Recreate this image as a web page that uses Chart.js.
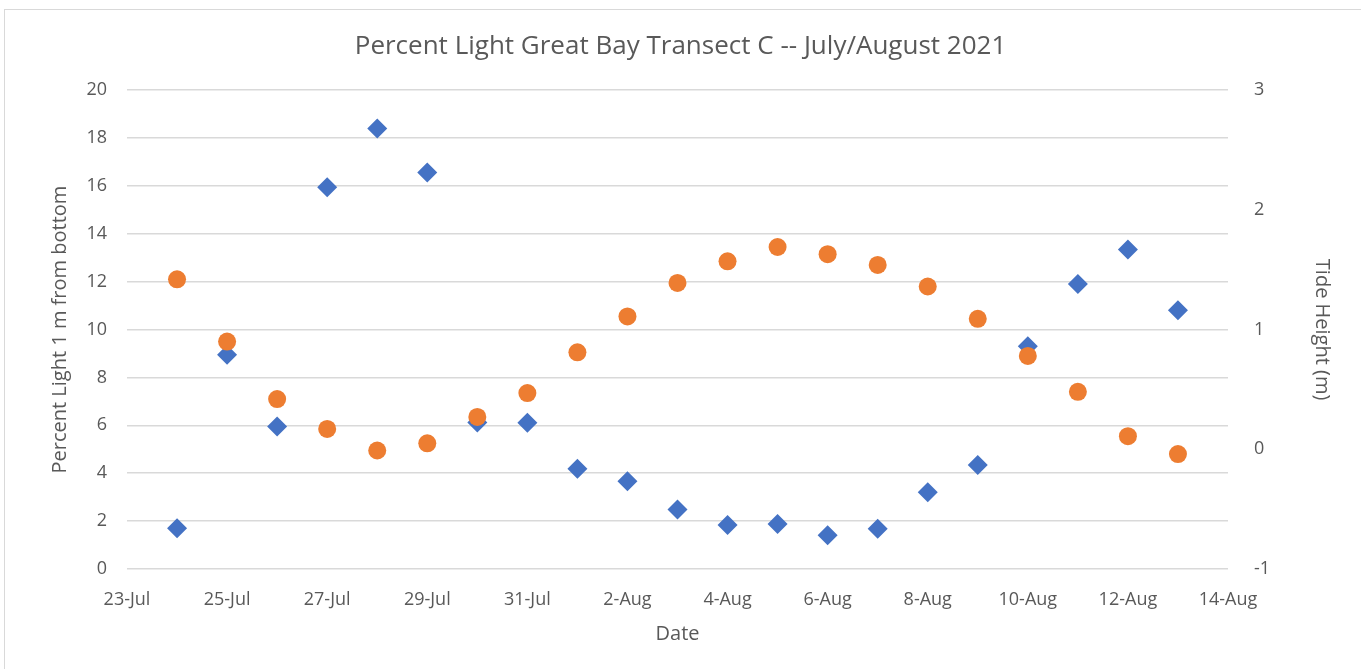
<!DOCTYPE html>
<html>
<head>
<meta charset="utf-8">
<script src="https://cdn.jsdelivr.net/npm/chart.js@4/dist/chart.umd.min.js"></script>
<style>
    html, body { margin: 0; padding: 0; background: #fff; overflow: hidden; }
    #wrap { position: relative; width: 1361px; height: 669px; }
    #frame { position: absolute; left: 4px; top: 9px; width: 1400px; height: 700px; border: 1px solid #d9d9d9; box-sizing: border-box; }
    canvas { position: absolute; left: 0; top: 0; }
</style>
</head>
<body>
<div id="wrap">
    <div id="frame"></div>
    <canvas id="chart" width="1361" height="669"></canvas>
</div>
<script>
// x 위치 = 7월 23일부터 지난 일수
const dayIndex = [1, 2, 3, 4, 5, 6, 7, 8, 9, 10, 11, 12, 13, 14, 15, 16, 17, 18, 19, 20, 21];
const percentLight = [1.70, 8.95, 5.95, 15.95, 18.40, 16.56, 6.12, 6.11, 4.19, 3.67, 2.49, 1.84, 1.88, 1.41, 1.68, 3.21, 4.34, 9.30, 11.90, 13.35, 10.81];
const tideHeight = [1.42, 0.90, 0.42, 0.17, -0.01, 0.05, 0.27, 0.47, 0.81, 1.11, 1.39, 1.57, 1.69, 1.63, 1.54, 1.36, 1.09, 0.78, 0.48, 0.11, -0.04];
const tickLabels = ['23-Jul', '25-Jul', '27-Jul', '29-Jul', '31-Jul', '2-Aug', '4-Aug', '6-Aug', '8-Aug', '10-Aug', '12-Aug', '14-Aug'];

const fontFamily = "'Open Sans', sans-serif";
const textColor = '#595959';

const lightPoints = dayIndex.map((d, i) => ({ x: d, y: percentLight[i] }));
const tidePoints = dayIndex.map((d, i) => ({ x: d, y: tideHeight[i] }));

new Chart(document.getElementById('chart'), {
    type: 'scatter',
    data: {
        datasets: [{
            label: 'Percent Light',
            data: lightPoints,
            yAxisID: 'y',
            pointStyle: 'rectRot',
            pointRadius: 10,
            pointHoverRadius: 10,
            backgroundColor: '#4472C4',
            borderColor: '#4472C4',
            borderWidth: 0,
            order: 2
        }, {
            label: 'Tide Height',
            data: tidePoints,
            yAxisID: 'y2',
            pointStyle: 'circle',
            pointRadius: 9,
            pointHoverRadius: 9,
            backgroundColor: '#ED7D31',
            borderColor: '#ED7D31',
            borderWidth: 0,
            order: 1
        }]
    },
    options: {
        responsive: false,
        animation: false,
        layout: { padding: 0 },
        plugins: {
            legend: { display: false },
            tooltip: { enabled: false },
            title: {
                display: true,
                text: 'Percent Light Great Bay Transect C -- July/August 2021',
                color: textColor,
                font: { family: fontFamily, size: 26, weight: 'normal' },
                padding: { top: 31, bottom: 28 }
            }
        },
        scales: {
            x: {
                type: 'linear',
                min: 0,
                max: 22,
                border: { display: false },
                grid: { display: false },
                ticks: {
                    stepSize: 2,
                    autoSkip: false,
                    maxRotation: 0,
                    padding: 12,
                    color: textColor,
                    font: { family: fontFamily, size: 18 },
                    callback: (value) => tickLabels[value / 2]
                },
                title: {
                    display: true,
                    text: 'Date',
                    color: textColor,
                    font: { family: fontFamily, size: 20 },
                    padding: { top: 0, bottom: 23 }
                },
                afterFit: (scale) => { scale.height = 100; }
            },
            y: {
                position: 'left',
                min: 0,
                max: 20,
                border: { display: false },
                grid: { color: '#d9d9d9', lineWidth: 1.5, drawTicks: false },
                ticks: {
                    stepSize: 2,
                    padding: 20,
                    color: textColor,
                    font: { family: fontFamily, size: 18 }
                },
                title: {
                    display: true,
                    text: 'Percent Light 1 m from bottom',
                    color: textColor,
                    font: { family: fontFamily, size: 20 },
                    padding: { top: 48, bottom: 0 }
                },
                afterFit: (scale) => { scale.width = 127; }
            },
            y2: {
                position: 'right',
                min: -1,
                max: 3,
                border: { display: false },
                grid: { display: false },
                ticks: {
                    stepSize: 1,
                    padding: 18,
                    color: textColor,
                    font: { family: fontFamily, size: 18 }
                },
                title: {
                    display: true,
                    text: 'Tide Height (m)',
                    color: textColor,
                    font: { family: fontFamily, size: 20 },
                    padding: { top: 27, bottom: 0 }
                },
                afterFit: (scale) => { scale.width = 133; }
            }
        }
    }
});
</script>
</body>
</html>
